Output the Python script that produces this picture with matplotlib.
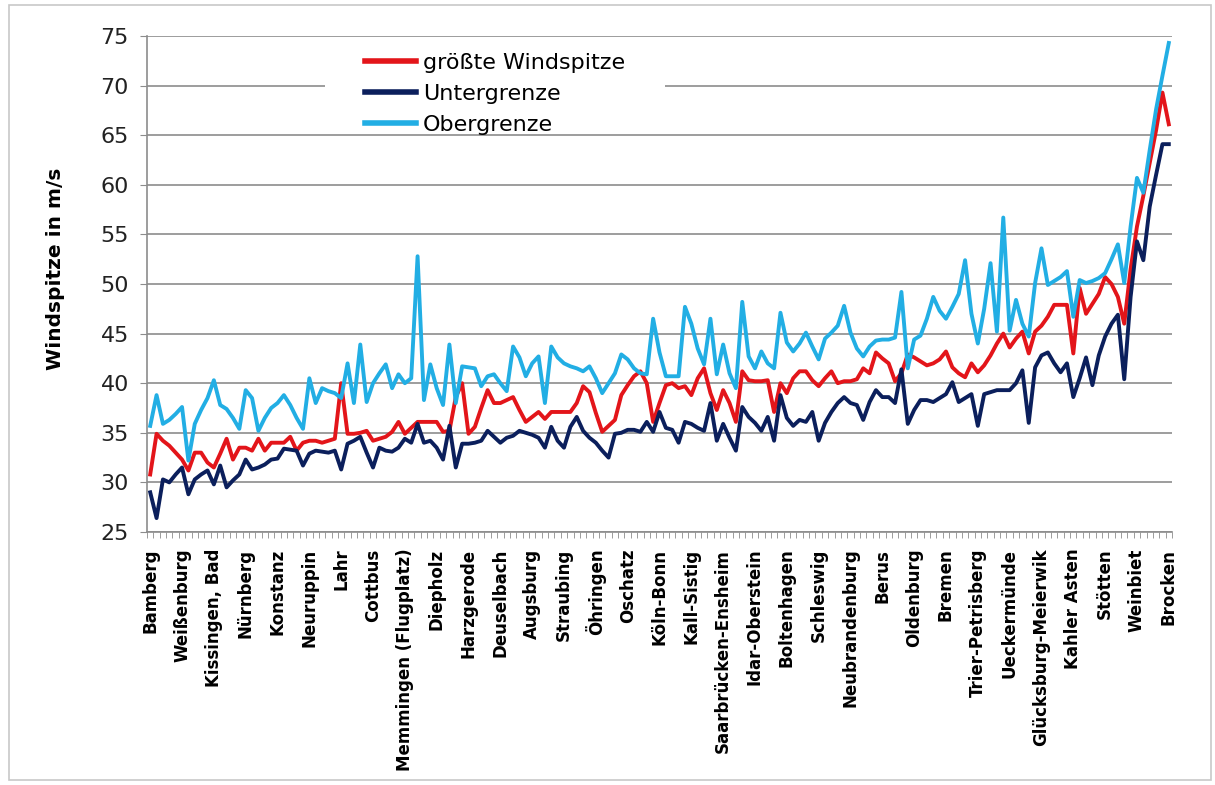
import numpy as np
import matplotlib.pyplot as plt
from matplotlib.patches import Rectangle

# Stationen (jede 5. Station beschriftet)
stationen = ["Bamberg", "Weißenburg", "Kissingen, Bad", "Nürnberg", "Konstanz", "Neuruppin",
             "Lahr", "Cottbus", "Memmingen (Flugplatz)", "Diepholz", "Harzgerode", "Deuselbach",
             "Augsburg", "Straubing", "Öhringen", "Oschatz", "Köln-Bonn", "Kall-Sistig",
             "Saarbrücken-Ensheim", "Idar-Oberstein", "Boltenhagen", "Schleswig", "Neubrandenburg",
             "Berus", "Oldenburg", "Bremen", "Trier-Petrisberg", "Ueckermünde", "Glücksburg-Meierwik",
             "Kahler Asten", "Stötten", "Weinbiet", "Brocken"]

groesste = [30.8, 34.9, 34.2, 33.7, 33.0, 32.3, 31.2, 33.0, 33.0, 32.0,
            31.5, 32.9, 34.4, 32.3, 33.5, 33.5, 33.2, 34.4, 33.2, 34.0,
            34.0, 34.0, 34.6, 33.2, 34.0, 34.2, 34.2, 34.0, 34.2, 34.4,
            40.0, 34.9, 34.9, 35.0, 35.2, 34.2, 34.4, 34.6, 35.1, 36.1,
            34.9, 35.5, 36.1, 36.1, 36.1, 36.1, 35.1, 35.2, 38.6, 40.0,
            34.9, 35.6, 37.5, 39.3, 38.0, 38.0, 38.3, 38.6, 37.3, 36.1,
            36.6, 37.1, 36.4, 37.1, 37.1, 37.1, 37.1, 38.0, 39.7, 39.1,
            37.0, 35.1, 35.7, 36.3, 38.8, 39.8, 40.7, 41.2, 40.0, 36.1,
            38.0, 39.8, 40.0, 39.5, 39.7, 38.8, 40.5, 41.5, 39.0, 37.3,
            39.3, 38.0, 36.1, 41.2, 40.3, 40.2, 40.2, 40.3, 37.1, 40.0,
            39.0, 40.5, 41.2, 41.2, 40.3, 39.7, 40.5, 41.2, 40.0, 40.2,
            40.2, 40.4, 41.5, 41.0, 43.1, 42.5, 42.0, 40.2, 41.0, 42.9,
            42.6, 42.2, 41.8, 42.0, 42.4, 43.2, 41.6, 41.0, 40.6, 42.0,
            41.1, 41.8, 42.8, 44.0, 45.0, 43.6, 44.5, 45.2, 43.0, 45.2,
            45.8, 46.7, 47.9, 47.9, 47.9, 43.0, 49.6, 47.0, 48.0, 49.0,
            50.7, 50.0, 48.7, 46.0, 51.5, 55.8, 58.9, 62.2, 65.5, 69.3,
            66.1]

untergrenze = [29.0, 26.4, 30.3, 30.0, 30.8, 31.5, 28.8, 30.3, 30.8, 31.2,
               29.8, 31.7, 29.5, 30.2, 30.8, 32.3, 31.3, 31.5, 31.8, 32.3,
               32.4, 33.4, 33.3, 33.2, 31.7, 32.9, 33.2, 33.1, 33.0, 33.2,
               31.3, 33.9, 34.2, 34.6, 33.0, 31.5, 33.5, 33.2, 33.1, 33.5,
               34.4, 34.0, 35.9, 34.0, 34.2, 33.5, 32.3, 35.7, 31.5, 33.9,
               33.9, 34.0, 34.2, 35.2, 34.6, 34.0, 34.5, 34.7, 35.2, 35.0,
               34.8, 34.5, 33.5, 35.6, 34.2, 33.5, 35.6, 36.6, 35.2, 34.5,
               34.0, 33.2, 32.5, 34.9, 35.0, 35.3, 35.3, 35.1, 36.1, 35.1,
               37.1, 35.5, 35.3, 34.0, 36.1, 35.9, 35.5, 35.2, 38.0, 34.2,
               35.9, 34.5, 33.2, 37.6, 36.6, 36.0, 35.2, 36.6, 34.2, 38.8,
               36.5, 35.7, 36.3, 36.1, 37.1, 34.2, 36.0, 37.1, 38.0, 38.6,
               38.0, 37.8, 36.3, 38.1, 39.3, 38.6, 38.6, 38.0, 41.4, 35.9,
               37.3, 38.3, 38.3, 38.1, 38.5, 38.9, 40.1, 38.1, 38.5, 38.9,
               35.7, 38.9, 39.1, 39.3, 39.3, 39.3, 40.0, 41.3, 36.0, 41.6,
               42.8, 43.1, 42.0, 41.1, 42.0, 38.6, 40.5, 42.6, 39.8, 42.8,
               44.7, 46.0, 46.9, 40.4, 48.7, 54.3, 52.4, 57.8, 61.0, 64.1,
               64.1]

obergrenze = [35.7, 38.8, 35.9, 36.3, 36.9, 37.6, 32.2, 35.9, 37.3, 38.5,
              40.3, 37.8, 37.4, 36.5, 35.4, 39.3, 38.5, 35.2, 36.5, 37.5,
              38.0, 38.8, 37.8, 36.5, 35.4, 40.5, 38.0, 39.5, 39.2, 39.0,
              38.5, 42.0, 38.0, 43.9, 38.1, 40.0, 41.0, 41.9, 39.5, 40.9,
              40.0, 40.5, 52.8, 38.3, 41.9, 39.5, 37.8, 43.9, 38.0, 41.7,
              41.6, 41.5, 39.7, 40.7, 40.9, 40.0, 39.2, 43.7, 42.6, 40.7,
              42.0, 42.7, 38.0, 43.7, 42.6, 42.0, 41.7, 41.5, 41.2, 41.7,
              40.5, 39.0, 40.0, 41.0, 42.9, 42.4, 41.5, 41.0, 40.9, 46.5,
              43.1, 40.7, 40.7, 40.7, 47.7, 46.0, 43.5, 41.9, 46.5, 40.9,
              43.9, 41.0, 39.5, 48.2, 42.7, 41.5, 43.2, 42.0, 41.5, 47.1,
              44.1, 43.2, 44.0, 45.1, 43.7, 42.4, 44.5, 45.1, 45.8, 47.8,
              45.1, 43.5, 42.7, 43.7, 44.3, 44.4, 44.4, 44.6, 49.2, 41.5,
              44.4, 44.8, 46.5, 48.7, 47.3, 46.5, 47.7, 49.0, 52.4, 47.0,
              44.0, 47.5, 52.1, 45.2, 56.7, 45.3, 48.4, 46.0, 44.7, 50.1,
              53.6, 49.9, 50.3, 50.7, 51.3, 46.7, 50.4, 50.1, 50.3, 50.6,
              51.1, 52.5, 54.0, 50.1, 55.8, 60.7, 59.2, 63.5, 67.6, 71.0,
              74.3]

x = np.arange(len(groesste))
grau = "#8c8c8c"

fig = plt.figure(figsize=(12.15, 7.85), dpi=100)
fig.patches.append(Rectangle((0.007, 0.006), 0.99, 0.988, transform=fig.transFigure,
                             fill=False, edgecolor="#c8c8c8", lw=1.2))
ax = fig.add_axes([0.121, 0.3223, 0.8436, 0.6318])

ax.plot(x, groesste, color="#e3151a", lw=2.8, label="größte Windspitze")
ax.plot(x, untergrenze, color="#0b1f5c", lw=2.8, label="Untergrenze")
ax.plot(x, obergrenze, color="#22aee4", lw=2.8, label="Obergrenze")

ax.set_xlim(-0.5, len(x) - 0.5)
ax.set_ylim(25, 75)
ax.set_yticks(range(25, 80, 5))
ax.grid(axis="y", color=grau, lw=1.2)
ax.set_axisbelow(True)
for s in ["top", "right"]:
    ax.spines[s].set_visible(False)
for s in ["left", "bottom"]:
    ax.spines[s].set_color(grau)
    ax.spines[s].set_linewidth(1.2)

ax.tick_params(axis="y", length=5, color=grau, labelsize=16, pad=8, labelcolor="#222222")
ax.set_xticks(x[::5])
ax.set_xticklabels(stationen, rotation=90, fontsize=12, fontweight="bold")
ax.set_xticks(np.arange(-0.5, len(x), 1), minor=True)
ax.tick_params(axis="x", which="major", length=0, pad=12)
ax.tick_params(axis="x", which="minor", length=4, color=grau)

ax.set_ylabel("Windspitze in m/s", fontsize=14.5, fontweight="bold")
ax.yaxis.set_label_coords(-0.08, 0.53)

# weisser Hintergrund der Legende (wie im Excel-Diagramm)
ax.add_patch(Rectangle((325 / 1215, 1 - 132 / 785), 340 / 1215, 88 / 785,
                       transform=fig.transFigure, facecolor="white", edgecolor="none",
                       zorder=4, clip_on=False))
leg = ax.legend(loc="upper left", bbox_to_anchor=(0.2897, 0.9495), bbox_transform=fig.transFigure,
                fontsize=16, frameon=False, handlelength=2.3, handletextpad=0.3,
                labelspacing=0.5, borderpad=0.6, borderaxespad=0)
leg.set_zorder(5)
for line in leg.get_lines():
    line.set_linewidth(4)

fig.savefig("out.png", dpi=100)
